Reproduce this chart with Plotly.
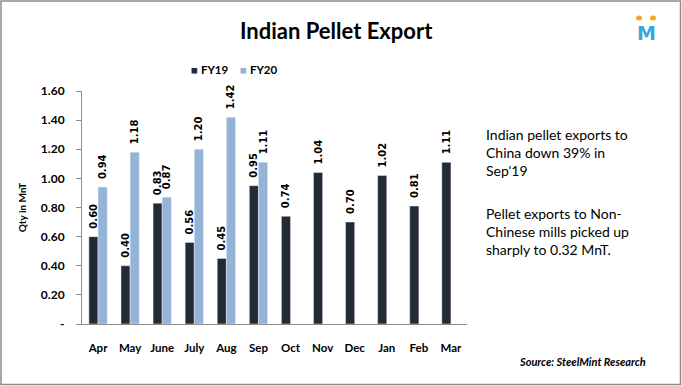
import plotly.graph_objects as go

months = ["Apr", "May", "June", "July", "Aug", "Sep", "Oct", "Nov", "Dec", "Jan", "Feb", "Mar"]
fy19 = [0.60, 0.40, 0.83, 0.56, 0.45, 0.95, 0.74, 1.04, 0.70, 1.02, 0.81, 1.11]
fy20 = [0.94, 1.18, 0.87, 1.20, 1.42, 1.11, None, None, None, None, None, None]
yticks = [0, 0.2, 0.4, 0.6, 0.8, 1.0, 1.2, 1.4, 1.6]
ytick_text = ["-" if v == 0 else f"{v:.2f}" for v in yticks]
series_names = ["FY19", "FY20"]
series_colors = ["#232a35", "#95b3d7"]

W, H = 682, 386
ml, mr, mt, mb = 82, 215, 91, 62
pw, ph = W - ml - mr, H - mt - mb

def px(x):
    return (x - ml) / pw

def py(y):
    return (H - mb - y) / ph

lbl_font = dict(family="DejaVu Sans", size=10, color="black")

fig = go.Figure()
for name, vals, col in zip(series_names, [fy19, fy20], series_colors):
    fig.add_trace(go.Bar(
        name=name, x=months, y=vals, marker_color=col,
        text=[f"\u2002<b>{v:.2f}</b>" if v is not None else "" for v in vals],
        textposition="outside", textangle=-90, textfont=lbl_font, cliponaxis=False,
    ))

fig.update_layout(
    width=W, height=H,
    margin=dict(l=ml, r=mr, t=mt, b=mb),
    paper_bgcolor="white", plot_bgcolor="white",
    barmode="group", bargap=0.43, bargroupgap=0,
    uniformtext=dict(minsize=8, mode="show"),
    font=dict(family="Lato", color="black"),
    showlegend=False,
    xaxis=dict(showline=True, linecolor="#8c8c8c", linewidth=1, ticks="", showgrid=False,
               ticklabelstandoff=13,
               tickfont=dict(family="Lato", size=11.5, color="black", weight="bold")),
    yaxis=dict(range=[0, 1.6], tickvals=yticks, ticktext=ytick_text, showline=True,
               linecolor="#8c8c8c", linewidth=1, ticks="outside", ticklen=5, tickcolor="#8c8c8c",
               showgrid=False, zeroline=False, ticklabelstandoff=9,
               tickfont=dict(family="Lato", size=12, color="black", weight="bold"),
               title=dict(text="Qty in MnT", standoff=12,
                          font=dict(family="Lato", size=10, color="black", weight="bold"))),
)

# legend drawn as text
for name, col, lx in zip(series_names, series_colors, [189, 238]):
    fig.add_annotation(text=f'<span style="color:{col}">■</span> <b>{name}</b>',
                       xref="paper", yref="paper", x=px(lx), y=py(69),
                       xanchor="left", yanchor="middle", showarrow=False,
                       font=dict(family="Lato", size=11.5, color="black"))

fig.add_annotation(text="<b>Indian Pellet Export</b>", xref="paper", yref="paper",
                   x=px(336), y=py(30), xanchor="center", yanchor="middle", showarrow=False,
                   font=dict(family="Lato", size=22, color="black"))

fig.add_annotation(text="Indian pellet exports to<br>China down 39% in<br>Sep'19",
                   xref="paper", yref="paper", x=px(484), y=py(124), xanchor="left", yanchor="top",
                   align="left", showarrow=False,
                   font=dict(family="Lato", size=14, color="black"))
fig.add_annotation(text="Pellet exports to Non-<br>Chinese mills picked up<br>sharply to 0.32 MnT.",
                   xref="paper", yref="paper", x=px(484), y=py(203), xanchor="left", yanchor="top",
                   align="left", showarrow=False,
                   font=dict(family="Lato", size=14, color="black"))

fig.add_annotation(text="<b><i>Source: SteelMint Research</i></b>", xref="paper", yref="paper",
                   x=px(648), y=py(361), xanchor="right", yanchor="middle", showarrow=False,
                   font=dict(family="Lato", size=11, color="black"))

# logo
fig.add_annotation(text="<b>M</b>", xref="paper", yref="paper", x=px(646), y=py(33),
                   xanchor="center", yanchor="middle", showarrow=False,
                   font=dict(family="DejaVu Sans", size=19, color="#3aa6dc"))
for cx in (639, 653):
    fig.add_shape(type="circle", xref="paper", yref="paper",
                  x0=px(cx - 3), x1=px(cx + 3), y0=py(18 + 2.5), y1=py(18 - 2.5),
                  fillcolor="#f5a623", line_width=0)

# border
fig.add_shape(type="rect", xref="paper", yref="paper",
              x0=px(1), x1=px(680.5), y0=py(384.5), y1=py(1),
              line=dict(color="#8c8c8c", width=1.5), fillcolor="rgba(0,0,0,0)")

fig.write_html("out.html", config={"displayModeBar": False},
               post_script="document.body.style.margin='0';document.body.style.padding='0';")
